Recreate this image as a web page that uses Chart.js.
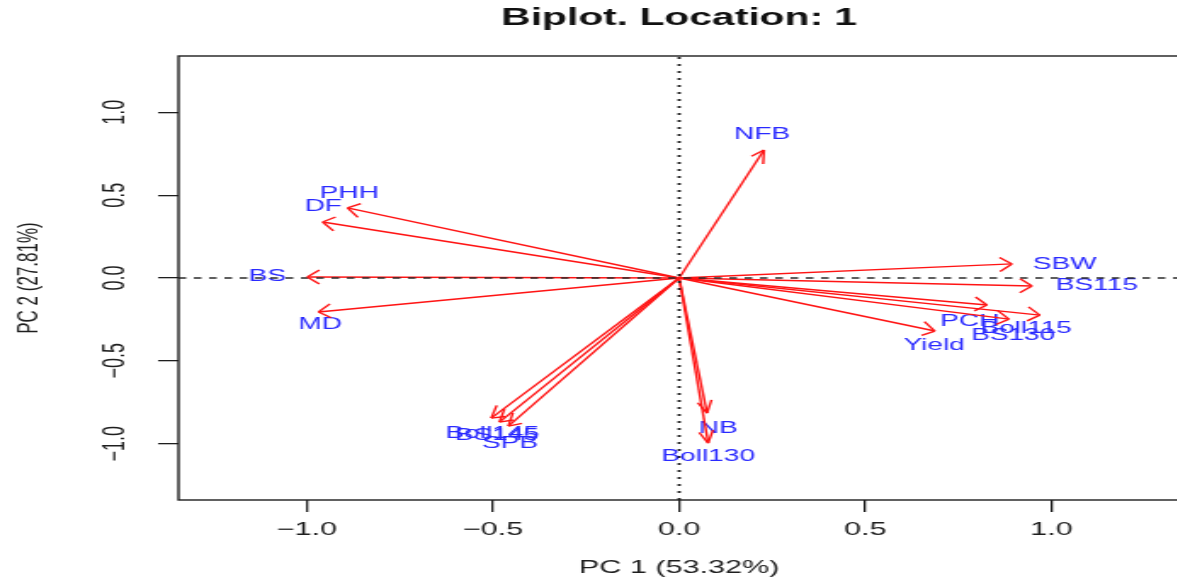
<!DOCTYPE html>
<html>
<head>
<meta charset="utf-8">
<script src="https://cdn.jsdelivr.net/npm/chart.js@4.4.1/dist/chart.umd.min.js"></script>
<style>
    html, body { margin: 0; padding: 0; background: #fff; overflow: hidden; }
    /* the plot device is wider than tall: draw narrow, stretch horizontally */
    #stage { width: 697px; height: 581px; transform: scaleX(1.7); transform-origin: 0 0; }
</style>
</head>
<body>
<div id="stage"><canvas id="biplot"></canvas></div>
<script>
// ============ Data ============
const varNames = ['NFB', 'PHH', 'DF', 'BS', 'MD', 'SBW', 'BS115', 'PCH', 'Boll115', 'BS130',
                  'Yield', 'NB', 'Boll130', 'BS145', 'Boll145', 'SPB'];
// loadings (arrow tips)
const pc1 = [0.228, -0.891, -0.958, -0.999, -0.969, 0.894, 0.948, 0.827, 0.969, 0.886,
             0.687, 0.075, 0.078, -0.483, -0.505, -0.459];
const pc2 = [0.773, 0.423, 0.338, 0.006, -0.205, 0.085, -0.048, -0.163, -0.224, -0.248,
             -0.320, -0.816, -0.997, -0.870, -0.846, -0.894];
// where each variable name is written
const labelPc1 = [0.223, -0.886, -0.956, -1.106, -0.964, 1.036, 1.122, 0.781, 0.932, 0.897,
                  0.685, 0.105, 0.078, -0.490, -0.502, -0.454];
const labelPc2 = [0.864, 0.508, 0.429, 0.012, -0.278, 0.079, -0.048, -0.260, -0.302, -0.344,
                  -0.405, -0.906, -1.076, -0.952, -0.937, -0.997];
const xTicks = [-1, -0.5, 0, 0.5, 1];
const yTicks = [-1, -0.5, 0, 0.5, 1];
const xLimit = 1.345;
const yLimit = 1.34;

// ============ Style ============
const STRETCH = 1.7;
const FONT = "'Liberation Sans', Arial, Helvetica, sans-serif";
const ARROW_RED = '#ff1414';
const LABEL_BLUE = '#2a2aff';
const INK = '#1e1e1e';
const HEAD_LEN = 14;
const HEAD_ANGLE = Math.PI / 6;

const fmtTick = (v) => (v < 0 ? '\u2212' : '') + Math.abs(v).toFixed(1);

// ============ Datasets ============
const refLines = [
    {
        data: [{ x: -xLimit, y: 0 }, { x: xLimit, y: 0 }],
        borderColor: '#2a2a2a', borderWidth: 1.6, borderDash: [4.5, 4.5]
    },
    {
        data: [{ x: 0, y: -yLimit }, { x: 0, y: yLimit }],
        borderColor: '#1a1a1a', borderWidth: 1.8, borderDash: [2, 5]
    }
];

const arrowSets = varNames.map((name, i) => ({
    label: name,
    data: [{ x: 0, y: 0 }, { x: pc1[i], y: pc2[i] }],
    borderColor: ARROW_RED,
    borderWidth: 1.4
}));

const datasets = [...refLines, ...arrowSets].map(ds => ({
    ...ds, showLine: true, pointRadius: 0, pointHoverRadius: 0, fill: false, tension: 0
}));

// ============ Plugins ============
const labelPlugin = {
    id: 'varLabels',
    beforeDatasetsDraw(chart) {
        const { ctx, scales: { x, y } } = chart;
        ctx.save();
        ctx.fillStyle = LABEL_BLUE;
        ctx.font = `16.5px ${FONT}`;
        ctx.textAlign = 'center';
        ctx.textBaseline = 'middle';
        varNames.forEach((name, i) => {
            ctx.fillText(name, x.getPixelForValue(labelPc1[i]), y.getPixelForValue(labelPc2[i]));
        });
        ctx.restore();
    }
};

const arrowHeadPlugin = {
    id: 'arrowHeads',
    afterDatasetsDraw(chart) {
        const { ctx, scales: { x, y } } = chart;
        const x0 = x.getPixelForValue(0);
        const y0 = y.getPixelForValue(0);
        ctx.save();
        ctx.strokeStyle = ARROW_RED;
        ctx.lineWidth = 1.4;
        varNames.forEach((name, i) => {
            const tx = x.getPixelForValue(pc1[i]);
            const ty = y.getPixelForValue(pc2[i]);
            // heads are shaped in the stretched space so they keep their angle
            const ang = Math.atan2(ty - y0, (tx - x0) * STRETCH);
            ctx.beginPath();
            [-1, 1].forEach(sgn => {
                const a = ang + Math.PI + sgn * HEAD_ANGLE;
                ctx.moveTo(tx + HEAD_LEN * Math.cos(a) / STRETCH, ty + HEAD_LEN * Math.sin(a));
                ctx.lineTo(tx, ty);
            });
            ctx.stroke();
        });
        ctx.restore();
    }
};

const boxPlugin = {
    id: 'plotBox',
    afterDraw(chart) {
        const { ctx, chartArea: a } = chart;
        ctx.save();
        ctx.strokeStyle = INK;
        ctx.lineWidth = 1.4;
        ctx.strokeRect(a.left, a.top, a.right - a.left, a.bottom - a.top);
        ctx.restore();
    }
};

const bgPlugin = {
    id: 'whiteBg',
    beforeDraw(chart) {
        const { ctx, width, height } = chart;
        ctx.save();
        ctx.fillStyle = '#fff';
        ctx.fillRect(0, 0, width, height);
        ctx.restore();
    }
};

// ============ Chart ============
new Chart(document.getElementById('biplot').getContext('2d'), {
    type: 'scatter',
    data: { datasets },
    plugins: [bgPlugin, labelPlugin, arrowHeadPlugin, boxPlugin],
    options: {
        responsive: true,
        maintainAspectRatio: false,
        animation: false,
        events: [],
        layout: { padding: { left: 0, right: 3, top: 0, bottom: 0 } },
        plugins: {
            legend: { display: false },
            tooltip: { enabled: false },
            title: {
                display: true,
                text: 'Biplot. Location: 1',
                fullSize: false,
                color: '#111',
                font: { family: FONT, size: 24, weight: 'bold' },
                padding: { top: 4, bottom: 23.2 }
            }
        },
        scales: {
            x: {
                type: 'linear',
                min: -xLimit,
                max: xLimit,
                afterBuildTicks: (axis) => { axis.ticks = xTicks.map(v => ({ value: v })); },
                afterFit: (axis) => { axis.height = 81; },
                ticks: {
                    color: INK,
                    padding: 7,
                    font: { family: FONT, size: 18 },
                    callback: fmtTick
                },
                grid: { drawOnChartArea: false, tickLength: 12, color: INK, lineWidth: 1.3 },
                border: { display: false },
                title: {
                    display: true,
                    text: 'PC 1 (53.32%)',
                    color: INK,
                    font: { family: FONT, size: 18 },
                    padding: { top: 0, bottom: 2 }
                }
            },
            y: {
                type: 'linear',
                min: -yLimit,
                max: yLimit,
                afterBuildTicks: (axis) => { axis.ticks = yTicks.map(v => ({ value: v })); },
                afterFit: (axis) => { axis.width = 105; },
                ticks: {
                    color: INK,
                    padding: 7,
                    minRotation: 90,
                    maxRotation: 90,
                    crossAlign: 'center',
                    font: { family: FONT, size: 18 },
                    callback: fmtTick
                },
                grid: { drawOnChartArea: false, tickLength: 12, color: INK, lineWidth: 1.3 },
                border: { display: false },
                title: {
                    display: true,
                    text: 'PC 2 (27.81%)',
                    color: INK,
                    font: { family: FONT, size: 17 },
                    padding: { top: 7, bottom: 0 }
                }
            }
        }
    }
});
</script>
</body>
</html>
